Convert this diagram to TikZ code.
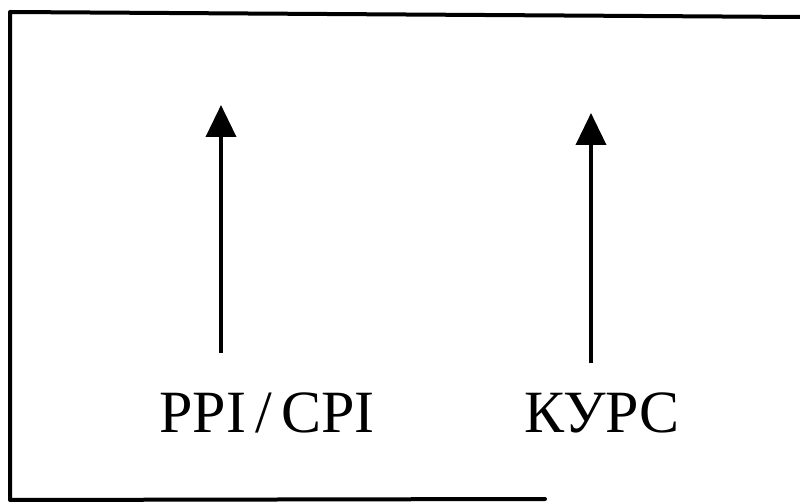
\documentclass[tikz,border=0pt]{standalone}
\usepackage{fontspec}
\setmainfont{Liberation Serif}
\usepackage{tikz}
\usetikzlibrary{arrows.meta}
\tikzset{
  frameline/.style={line width=4pt,line cap=round,line join=round},
  uparrow/.style={line width=3.8pt,-{Triangle[length=32pt,width=30pt]}},
  lbl/.style={font=\fontsize{60}{66}\selectfont,anchor=base,inner sep=0pt}
}
\begin{document}
\begin{tikzpicture}[x=1pt,y=1pt]
\useasboundingbox (0,0) rectangle (800,503);
% open frame: left, top and part of the bottom
\draw[frameline] (800,486) -- (10,491) -- (10,3) -- (545,4);
% labels
\node[lbl] (ppi) at (267,70) {PPI\hspace{9pt}/\hspace{9pt}CPI};
\node[lbl] (kurs) at (602,70) {КУРС};
% arrows
\coordinate (ppifoot) at (221,150);
\coordinate (ppitip) at (221,398);
\coordinate (kursfoot) at (591,140);
\coordinate (kurstip) at (591,390);
\draw[uparrow] (ppifoot) -- (ppitip);
\draw[uparrow] (kursfoot) -- (kurstip);
\end{tikzpicture}
\end{document}
